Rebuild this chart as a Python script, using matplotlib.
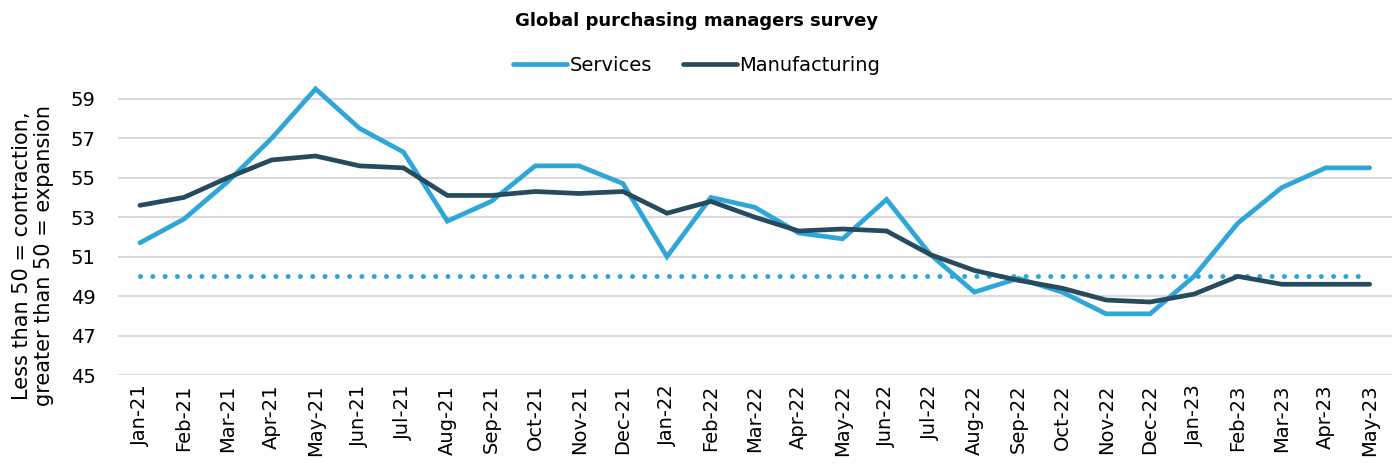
import numpy as np
import matplotlib
matplotlib.use('Agg')
import matplotlib.pyplot as plt

# Monthly PMI readings, Jan-21 to May-23
months = ['Jan-21', 'Feb-21', 'Mar-21', 'Apr-21', 'May-21', 'Jun-21', 'Jul-21',
          'Aug-21', 'Sep-21', 'Oct-21', 'Nov-21', 'Dec-21',
          'Jan-22', 'Feb-22', 'Mar-22', 'Apr-22', 'May-22', 'Jun-22', 'Jul-22',
          'Aug-22', 'Sep-22', 'Oct-22', 'Nov-22', 'Dec-22',
          'Jan-23', 'Feb-23', 'Mar-23', 'Apr-23', 'May-23']
services = [51.7, 52.9, 54.8, 57.0, 59.5, 57.5, 56.3, 52.8, 53.8, 55.6, 55.6, 54.7,
            51.0, 54.0, 53.5, 52.2, 51.9, 53.9, 51.1, 49.2, 49.9, 49.2, 48.1, 48.1,
            50.0, 52.7, 54.5, 55.5, 55.5]
manufacturing = [53.6, 54.0, 55.0, 55.9, 56.1, 55.6, 55.5, 54.1, 54.1, 54.3, 54.2, 54.3,
                 53.2, 53.8, 53.0, 52.3, 52.4, 52.3, 51.1, 50.3, 49.8, 49.4, 48.8, 48.7,
                 49.1, 50.0, 49.6, 49.6, 49.6]
threshold = 50

light_blue = '#2ea7d8'
dark_blue = '#264b5f'

fig = plt.figure(figsize=(13.93, 4.65), dpi=100)
ax = fig.add_axes([0.0847, 0.1935, 0.9143, 0.6365])

x = np.arange(len(months))
ax.plot(x, [threshold] * len(x), color=light_blue, lw=3.6,
        linestyle=(0, (0.01, 2.45)), dash_capstyle='round', zorder=2)
ax.plot(x, services, color=light_blue, lw=3.4, label='Services',
        solid_capstyle='round', solid_joinstyle='miter', zorder=3)
ax.plot(x, manufacturing, color=dark_blue, lw=3.4, label='Manufacturing',
        solid_capstyle='round', solid_joinstyle='miter', zorder=4)

ax.set_xlim(-0.5, len(months) - 0.5)
ax.set_ylim(45, 60)
ax.set_yticks(np.arange(45, 60, 2))
ax.set_xticks(x)
ax.set_xticklabels(months, rotation=90, fontsize=14)
ax.tick_params(axis='y', labelsize=14, length=0, pad=16)
ax.tick_params(axis='x', length=0, pad=7)
ax.grid(axis='y', color='#d9d9de', lw=1.5)
ax.set_axisbelow(True)
for s in ax.spines.values():
    s.set_visible(False)

fig.text(0.0235, 0.45, 'Less than 50 = contraction,\ngreater than 50 = expansion',
         rotation=90, ha='center', va='center', fontsize=15, linespacing=1.15)

fig.text(0.5, 0.955, 'Global purchasing managers survey', ha='center', va='center',
         fontsize=13, fontweight='bold')

fig.legend(loc='center', bbox_to_anchor=(0.5, 0.86), ncol=2, frameon=False,
           fontsize=14, handlelength=2.8, handletextpad=0.1, columnspacing=1.6)

fig.savefig('out.png', dpi=100)
